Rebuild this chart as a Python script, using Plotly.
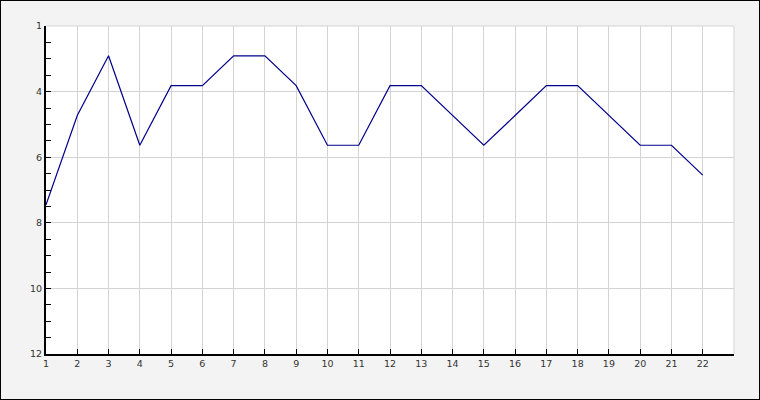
import plotly.graph_objects as go

x_vals = list(range(1, 23))
ranks = [7, 4, 2, 5, 3, 3, 2, 2, 3, 5, 5, 3, 3, 4, 5, 4, 3, 3, 4, 5, 5, 6]

x_tickvals = list(range(1, 24))
x_ticktext = [str(v) for v in range(1, 23)] + [""]

y_tickvals = [1, 3.2, 5.4, 7.6, 9.8, 12]
y_ticktext = ["1", "4", "6", "8", "10", "12"]

W, H = 760, 400
ML, MR, MT, MB = 46, 26, 26, 46

fig = go.Figure()
fig.add_trace(go.Scatter(
    x=x_vals, y=ranks, mode="lines",
    line=dict(color="#00008b", width=1.2),
    hoverinfo="x+y", showlegend=False,
))

font = dict(family="DejaVu Sans, Verdana, sans-serif", size=9.5, color="#333333")

fig.update_layout(
    width=W, height=H,
    margin=dict(l=ML, r=MR, t=MT, b=MB, pad=0),
    paper_bgcolor="#f3f3f3",
    plot_bgcolor="#ffffff",
    font=font,
    xaxis=dict(
        range=[1, 23], tickmode="array", tickvals=x_tickvals, ticktext=x_ticktext,
        ticks="inside", ticklen=5, tickcolor="#000000", tickwidth=1,
        showline=True, linecolor="#000000", linewidth=2,
        showgrid=True, gridcolor="#d3d3d3", gridwidth=1,
        zeroline=False, tickfont=font,
    ),
    yaxis=dict(
        range=[12, 1], tickmode="array", tickvals=y_tickvals, ticktext=y_ticktext,
        ticks="inside", ticklen=5, tickcolor="#000000", tickwidth=1,
        showline=True, linecolor="#000000", linewidth=2,
        showgrid=True, gridcolor="#d3d3d3", gridwidth=1,
        zeroline=False, tickfont=font,
        minor=dict(tick0=1, dtick=0.55, ticks="inside", ticklen=5,
                   tickcolor="#000000", tickwidth=1, showgrid=False),
    ),
    shapes=[
        dict(type="line", xref="paper", yref="paper", x0=0, x1=1, y0=1, y1=1,
             line=dict(color="#d3d3d3", width=1), layer="below"),
        dict(type="line", xref="paper", yref="paper", x0=1, x1=1, y0=0, y1=1,
             line=dict(color="#d3d3d3", width=1), layer="below"),
    ],
)

fig.write_html(
    "out.html",
    config={"displayModeBar": False},
    post_script=(
        "document.body.style.margin='0';document.body.style.padding='0';"
        "var b=document.createElement('div');"
        "b.style.cssText='position:absolute;left:0;top:0;width:760px;height:400px;"
        "box-sizing:border-box;border:1px solid #000;pointer-events:none;z-index:10000;';"
        "document.body.appendChild(b);"
    ),
)
